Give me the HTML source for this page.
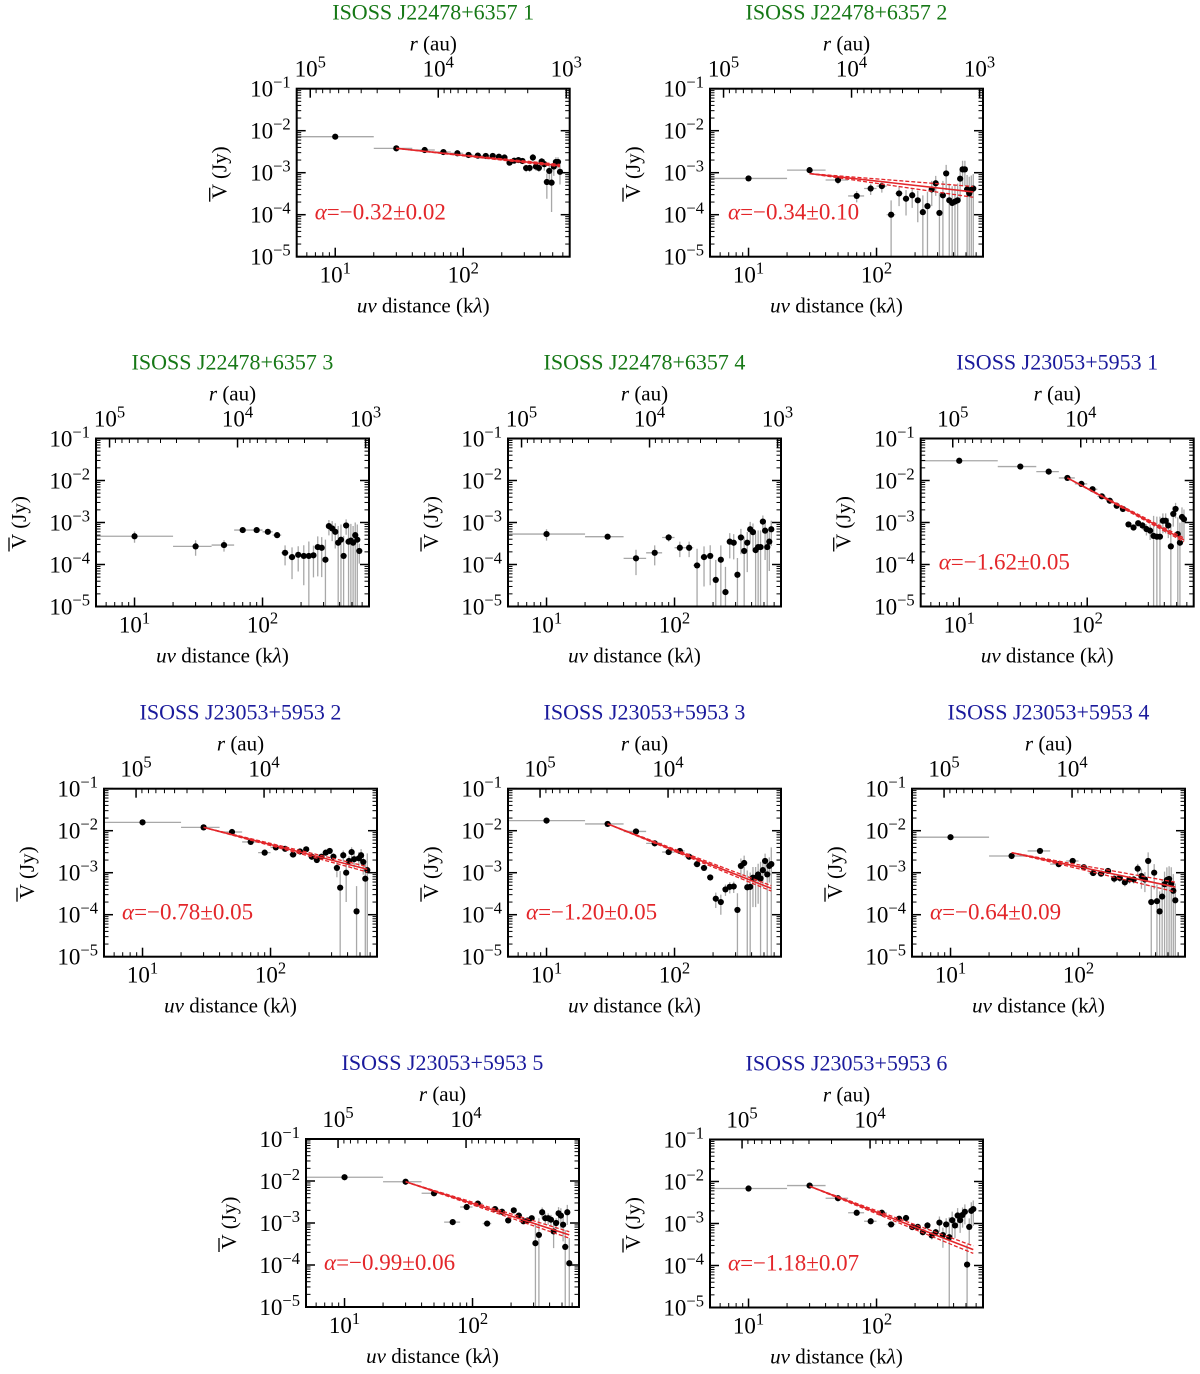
<!DOCTYPE html>
<html><head><meta charset="utf-8"><style>
html,body{margin:0;padding:0;background:#fff;}
svg{display:block;font-family:"Liberation Serif","DejaVu Serif",serif;}
</style></head><body>
<svg id="fig" width="1200" height="1374" viewBox="0 0 1200 1374" xmlns="http://www.w3.org/2000/svg"></svg>
<script>
const uv = [10,30,50,70,90,110,130,150,170,190,210,230,250,270,290,310,330,350,370,390,410,430,450,470,490,510,530,550,570];
const titles = ["ISOSS J22478+6357 1","ISOSS J22478+6357 2","ISOSS J22478+6357 3","ISOSS J22478+6357 4","ISOSS J23053+5953 1","ISOSS J23053+5953 2","ISOSS J23053+5953 3","ISOSS J23053+5953 4","ISOSS J23053+5953 5","ISOSS J23053+5953 6"];
const V0 = [7.2e-3,3.8e-3,3.47e-3,3.1e-3,2.9e-3,2.64e-3,2.55e-3,2.5e-3,2.5e-3,2.4e-3,2.3e-3,1.73e-3,1.93e-3,2.0e-3,1.9e-3,1.29e-3,1.3e-3,2.3e-3,1.4e-3,1.3e-3,1.85e-3,1.6e-3,6e-4,1.1e-3,5.8e-4,1.4e-3,1.8e-3,1.8e-3,1.05e-3];
const V1 = [7.3e-4,1.15e-3,6.7e-4,2.8e-4,4.2e-4,4.8e-4,1.0e-4,3.2e-4,2.4e-4,2.9e-4,2.2e-4,1.15e-4,1.6e-4,4e-4,5.6e-4,1.1e-4,2.9e-4,9.6e-4,2.2e-4,1.9e-4,2.05e-4,2.2e-4,7.2e-4,1.2e-3,1.2e-3,4e-4,3.2e-4,3.9e-4,4.2e-4];
const V2 = [4.7e-4,2.7e-4,2.9e-4,6.6e-4,6.6e-4,6e-4,5e-4,1.9e-4,1.5e-4,1.7e-4,1.6e-4,1.6e-4,1.65e-4,2.6e-4,2.5e-4,1.3e-4,8.2e-4,7.2e-4,6e-4,3.3e-4,3.9e-4,1.6e-4,8.5e-4,3.5e-4,3.7e-4,3.3e-4,5e-4,3.9e-4,2.1e-4];
const V3 = [5.3e-4,4.6e-4,1.4e-4,1.9e-4,4.4e-4,2.5e-4,2.5e-4,9.5e-5,1.5e-4,1.6e-4,4.3e-5,1.3e-4,2.2e-5,3.5e-4,3.3e-4,5.7e-5,4.4e-4,2.1e-4,3.3e-4,6.9e-4,5.9e-4,2.2e-4,2.6e-4,2.6e-4,1.05e-3,6.4e-4,2.6e-4,3.5e-4,6.9e-4];
const V4 = [2.95e-2,2.15e-2,1.63e-2,1.15e-2,8.3e-3,6.2e-3,4.2e-3,3.3e-3,2.5e-3,2.1e-3,9e-4,7.6e-4,9.6e-4,8.5e-4,7e-4,6.4e-4,4.8e-4,4.6e-4,4.6e-4,1.1e-3,1.1e-3,8.5e-4,2.7e-4,1.6e-3,2.1e-3,5.3e-4,3.3e-4,1.35e-3,1.2e-3];
const V5 = [1.58e-2,1.2e-2,9.3e-3,5.4e-3,3.0e-3,4.0e-3,3.7e-3,2.7e-3,3.2e-3,3.6e-3,2.4e-3,2.0e-3,2.4e-3,3.0e-3,3.3e-3,2.4e-3,1.3e-3,4.4e-4,2.6e-3,1.0e-3,1.9e-3,3.1e-3,2.1e-3,1.2e-4,2.2e-3,2.6e-3,1.8e-3,7.2e-4,1.15e-3];
const V6 = [1.74e-2,1.45e-2,9.6e-3,5.0e-3,3.1e-3,3.3e-3,2.4e-3,1.6e-3,1.3e-3,7.7e-4,2.4e-4,2.0e-4,4.0e-4,4.6e-4,4.7e-4,1.3e-4,1.45e-3,1.7e-3,4.5e-4,4.6e-4,7.6e-4,7.6e-4,9.1e-4,7.3e-4,1.15e-3,1.9e-3,9.1e-4,1.45e-3,1.6e-3];
const V7 = [7.0e-3,2.5e-3,3.3e-3,1.6e-3,1.9e-3,1.35e-3,9.8e-4,9.5e-4,1.1e-3,7.2e-4,7.5e-4,5.9e-4,6.9e-4,6.9e-4,1.25e-3,8.3e-4,6.9e-4,1.9e-3,2.0e-4,1.0e-3,2.1e-4,1.2e-4,2.7e-4,5.3e-4,6.7e-4,7.1e-4,5.4e-4,3.7e-4,2.2e-4];
const V8 = [1.23e-2,9.6e-3,5.1e-3,1.05e-3,2.4e-3,2.9e-3,9.7e-4,2.15e-3,1.85e-3,1.15e-3,2.0e-3,1.5e-3,1.1e-3,1.15e-3,1.3e-3,3.3e-4,5.2e-4,1.8e-3,1.3e-3,1.3e-3,1.2e-3,6.3e-4,1.0e-3,1.7e-3,1.5e-3,9.1e-4,2.7e-4,1.8e-3,1.1e-4];
const V9 = [6.8e-3,8.0e-3,4.0e-3,1.8e-3,1.13e-3,1.8e-3,9.5e-4,1.3e-3,1.35e-3,8.2e-4,8.3e-4,6.2e-4,9e-4,5.2e-4,6.2e-4,1.05e-3,5.3e-4,9.5e-4,4.7e-4,1.2e-3,9e-4,1.55e-3,1.2e-3,1.6e-3,1.9e-3,1.05e-4,8.3e-4,2.0e-3,2.2e-3];
const E0 = [.05,.05,.04,.04,.04,.04,.04,.04,.04,.05,.05,.1,.1,.1,.1,.2,.2,.2,.2,.2,.2,.3,.6,.4,.8,.4,.3,.3,.5];
const E1 = [.1,.1,.2,.3,.3,.3,1.2,.5,.6,.5,.7,1.5,1.2,.6,.5,2,1.2,.6,1.5,1.5,1.5,1.5,.7,.6,.6,1.2,1.5,1.2,1.2];
const E2 = [.3,.4,.3,.1,.1,.1,.1,.5,.7,.6,.8,1.2,.7,.8,.8,2,.4,.5,.6,1.5,1.3,2,.4,1.5,1.5,1.5,1,1.3,.5];
const E3 = [.3,.1,.6,.5,.2,.4,.4,1.5,.8,.8,2,1.2,3,.6,.6,1.5,.6,1.2,.8,.5,.6,1.5,1.5,1.5,.4,.8,1.5,.8,.6];
const E4 = [.05,.05,.05,.05,.05,.05,.05,.05,.05,.08,.15,.15,.15,.2,.3,.4,2,2,2,.5,.5,.5,2,.5,.4,1.5,2,.7,.7];
const E5 = [.05,.05,.06,.1,.1,.1,.1,.1,.1,.1,.1,.1,.1,.15,.15,.2,.4,1.5,.3,.8,.3,.3,.4,3,.4,.4,.5,1.5,1.5];
const E6 = [.05,.05,.06,.08,.08,.08,.1,.1,.1,.15,.4,.5,.3,.3,.3,1.5,.5,.5,1.5,1.2,.8,.8,.8,1.5,.6,.5,1,.6,1.5];
const E7 = [.05,.1,.1,.15,.15,.15,.15,.15,.15,.2,.2,.2,.2,.2,.3,.5,.5,.6,1.5,.6,1.5,2,1.5,1,1,1,1.5,1.5,1.5];
const E8 = [.05,.05,.06,.1,.1,.1,.1,.1,.1,.1,.1,.1,.1,.1,.1,2,1.5,.3,.3,.3,.3,.6,.3,.4,.5,.6,1.5,.5,3];
const E9 = [.05,.05,.08,.1,.1,.1,.1,.1,.1,.1,.1,.1,.2,.2,.2,.4,.5,.4,2,.6,.5,.5,.5,.5,.5,2,.6,.6,.6];
const fitStart = [30,30,null,null,70,30,30,30,30,30];
const fitAmp = [3.8e-3,9.5e-4,null,null,1.15e-2,1.2e-2,1.45e-2,3.0e-3,9.6e-3,7.7e-3];
const fitAlpha = [-0.32,-0.34,null,null,-1.62,-0.78,-1.20,-0.64,-0.99,-1.18];
const fitErr = [0.02,0.10,null,null,0.05,0.05,0.05,0.09,0.06,0.07];
const fitEnd = 570;
const rConst = [6.38e5,6.38e5,6.38e5,6.38e5,8.9e5,8.9e5,8.9e5,8.9e5,8.9e5,8.9e5];
const yTickExp = [-1,-2,-3,-4,-5];
const xTickExp = [1,2];
const rTickExp = [5,4,3];

const Vs=[V0,V1,V2,V3,V4,V5,V6,V7,V8,V9];
const Es=[E0,E1,E2,E3,E4,E5,E6,E7,E8,E9];
const layout=[[296.7,88.7],[710,88.7],[96,438.5],[508,438.5],[920.7,438.5],[104,788.7],[508,788.7],[912,788.7],[306,1139],[710,1139.5]];
const W=273,H=168,XD=128,YD=42,XMIN=5;
const NS="http://www.w3.org/2000/svg";
const fig=document.getElementById('fig');
function mk(tag,attrs,parent){const e=document.createElementNS(NS,tag);for(const k in attrs)e.setAttribute(k,attrs[k]);(parent||fig).appendChild(e);return e;}
function pow10(parent,x,y,exp,anchor,size){
  const t=mk('text',{x:x,y:y,'font-size':size,'text-anchor':anchor,fill:'#000'},parent);
  const a=document.createElementNS(NS,'tspan');a.textContent='10';t.appendChild(a);
  const b=document.createElementNS(NS,'tspan');b.setAttribute('dy','-9');b.setAttribute('font-size',size*0.72);
  b.textContent=String(exp).replace('-','\u2212');t.appendChild(b);return t;
}
Vs.forEach((V,p)=>{
  const [L,T]=layout[p];
  const xs=u=>L+XD*(Math.log10(u)-Math.log10(XMIN));
  const ys=v=>T+YD*(-1-Math.log10(v));
  const g=mk('g',{});
  
  
  const col=p<4?'#167816':'#1a1a9c';
  const tt=mk('text',{x:L+W/2,y:T-69,'font-size':22,'text-anchor':'middle',fill:col},g);
  tt.textContent=titles[p];
  
  
  const rl=mk('text',{x:L+W/2,y:T-38,'font-size':21,'text-anchor':'middle'},g);
  rl.innerHTML='<tspan font-style="italic">r</tspan> (au)';
  
  
  const xl=mk('text',{x:L+W/2-10,y:T+H+56,'font-size':21,'text-anchor':'middle'},g);
  xl.innerHTML='<tspan font-style="italic">uv</tspan> distance (k<tspan font-style="italic">λ</tspan>)';
  
  
  const yl=mk('text',{x:0,y:0,'font-size':21,'text-anchor':'middle',transform:`translate(${L-70},${T+H/2}) rotate(-90)`},g);
  yl.textContent='V (Jy)';
  
  
  const ov=mk('line',{x1:L-87,x2:L-87,y1:T+H/2+29,y2:T+H/2+15,stroke:'#000','stroke-width':1.3},g);
  
  
  const cp=mk('clipPath',{id:'c'+p},g);mk('rect',{x:L,y:T,width:W,height:H},cp);
  const data=mk('g',{'clip-path':`url(#c${p})`},g);
  
  
  yTickExp.forEach(e=>{
    const y=ys(Math.pow(10,e));
    mk('line',{x1:L,x2:L+9,y1:y,y2:y,stroke:'#000','stroke-width':1.5},g);
    mk('line',{x1:L+W,x2:L+W-9,y1:y,y2:y,stroke:'#000','stroke-width':1.5},g);
    const lb=pow10(g,L-6,y+8,e,'end',23);
    
    
    if(e>-5){for(let m=2;m<10;m++){const yy=ys(m*Math.pow(10,e-1));
      mk('line',{x1:L,x2:L+4.5,y1:yy,y2:yy,stroke:'#000','stroke-width':1},g);
      mk('line',{x1:L+W,x2:L+W-4.5,y1:yy,y2:yy,stroke:'#000','stroke-width':1},g);}}
  });
  for(let d=0;d<=2;d++){for(let m=1;m<10;m++){const u=m*Math.pow(10,d);const x=xs(u);
    if(x<L-0.1||x>L+W+0.1)continue;const maj=m===1;
    mk('line',{x1:x,x2:x,y1:T+H,y2:T+H-(maj?9:4.5),stroke:'#000','stroke-width':maj?1.5:1},g);}}
  xTickExp.forEach(e=>{const lb=pow10(g,xs(Math.pow(10,e)),T+H+26,e,'middle',23);
    
    });
  const k=rConst[p];
  for(let d=2;d<=5;d++){for(let m=1;m<10;m++){const r=m*Math.pow(10,d);const x=xs(k/r);
    if(x<L-0.1||x>L+W+0.1)continue;const maj=m===1;
    mk('line',{x1:x,x2:x,y1:T,y2:T+(maj?9:4.5),stroke:'#000','stroke-width':maj?1.5:1},g);}}
  rTickExp.forEach(e=>{const x=xs(k/Math.pow(10,e));if(x<L-12||x>L+W+12)return;
    const lb=pow10(g,x,T-12,e,'middle',23);
    
    });
  V.forEach((v,i)=>{
    const u=uv[i],f=Es[p][i];
    const lo=f>=0.98?1e-7:v*(1-f),hi=v*(1+f);
    const x0=xs(Math.max(u-10,1)),x1=xs(u+10);
    const eb=mk('path',{d:`M${x0},${ys(v)}H${x1}M${xs(u)},${ys(lo)}V${ys(hi)}`,stroke:'#a8a8a8','stroke-width':1.3,fill:'none'},data);
    
    
  });
  V.forEach((v,i)=>{
    const c=mk('circle',{cx:xs(uv[i]),cy:ys(v),r:3.1,fill:'#000'},data);
    
    
  });
  if(fitStart[p]!==null){
    const s=fitStart[p],A=fitAmp[p],a=fitAlpha[p],er=fitErr[p];
    [[a,'none',1.6],[a+er,'4 2',1.3],[a-er,'4 2',1.3]].forEach(([al,da,w])=>{
      const ln=mk('line',{x1:xs(s),y1:ys(A),x2:xs(fitEnd),y2:ys(A*Math.pow(fitEnd/s,al)),stroke:'#e3262a','stroke-width':w,'stroke-dasharray':da},data);
      
      
    });
    const at=mk('text',{x:L+18,y:T+131,'font-size':23,fill:'#e3262a'},g);
    at.innerHTML='<tspan font-style="italic">α</tspan>=\u2212'+Math.abs(a).toFixed(2)+'±'+er.toFixed(2);
    
    
  }
  const box=mk('rect',{x:L,y:T,width:W,height:H,fill:'none',stroke:'#000','stroke-width':2},g);
  
  
});
</script>
</body></html>
